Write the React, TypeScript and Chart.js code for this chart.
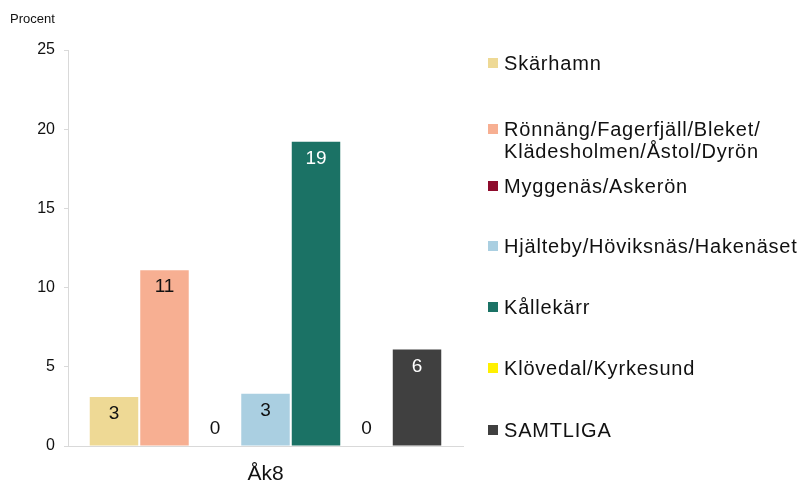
import React, { useEffect, useRef } from "react";
import { Chart, registerables } from "chart.js";

Chart.register(...registerables);

const categories = ["Åk8"];
const seriesNames = [
  "Skärhamn",
  "Rönnäng/Fagerfjäll/Bleket/\nKlädesholmen/Åstol/Dyrön",
  "Myggenäs/Askerön",
  "Hjälteby/Höviksnäs/Hakenäset",
  "Kållekärr",
  "Klövedal/Kyrkesund",
  "SAMTLIGA",
];
const seriesValues = [3.1, 11.1, 0, 3.3, 19.2, 0, 6.1];
const seriesLabels = ["3", "11", "0", "3", "19", "0", "6"];
const seriesColors = ["#EED995", "#F7AF92", "#8E0B2C", "#AACFE1", "#1B7265", "#FFF000", "#404040"];
const labelColors = ["#111", "#111", "#111", "#111", "#fff", "#111", "#fff"];
const yTicks = [0, 5, 10, 15, 20, 25];
const yTitle = "Procent";

const FONT = "'Liberation Sans', Arial, sans-serif";

const legendTops = [63, 140, 186, 246, 307, 368, 430];

export default function App() {
  const ref = useRef<HTMLCanvasElement | null>(null);

  useEffect(() => {
    if (!ref.current) return;
    const labelPlugin = {
      id: "valueLabels",
      afterDatasetsDraw(chart: any) {
        const ctx = chart.ctx;
        const base = chart.scales.y.getPixelForValue(0);
        ctx.save();
        ctx.font = `19px ${FONT}`;
        ctx.textAlign = "center";
        ctx.textBaseline = "middle";
        chart.data.datasets.forEach((ds: any, i: number) => {
          const meta = chart.getDatasetMeta(i);
          meta.data.forEach((bar: any) => {
            const v = seriesValues[i];
            const y = v === 0 ? base - 17 : bar.y + 17;
            ctx.fillStyle = labelColors[i];
            ctx.fillText(seriesLabels[i], bar.x, y);
          });
        });
        ctx.restore();
      },
    };
    const chart = new Chart(ref.current, {
      type: "bar",
      data: {
        labels: categories,
        datasets: seriesNames.map((name, i) => ({
          label: name,
          data: [seriesValues[i]],
          backgroundColor: seriesColors[i],
          borderColor: "#ffffff",
          borderWidth: 0,
          barPercentage: 0.96,
          categoryPercentage: 0.895,
        })),
      },
      options: {
        animation: false,
        responsive: false,
        maintainAspectRatio: false,
        layout: { padding: { left: 8, right: 342, top: 50, bottom: 0 } },
        plugins: {
          legend: { display: false },
          tooltip: { enabled: false },
        },
        scales: {
          x: {
            grid: { display: false },
            border: { display: true, color: "#d9d9d9", width: 1 },
            ticks: { color: "#111", font: { size: 21, family: FONT }, padding: 8 },
            afterFit: (s: any) => {
              s.height = 39;
            },
          },
          y: {
            min: 0,
            max: 25,
            afterBuildTicks: (s: any) => {
              s.ticks = yTicks.map((v) => ({ value: v }));
            },
            grid: { display: true, drawOnChartArea: false, tickLength: 4, color: "#d9d9d9" },
            border: { display: true, color: "#d9d9d9", width: 1 },
            ticks: { color: "#111", font: { size: 16, family: FONT }, padding: 9 },
            afterFit: (s: any) => {
              s.width = 60;
            },
          },
        },
      },
      plugins: [labelPlugin],
    });
    return () => chart.destroy();
  }, []);

  return (
    <div style={{ position: "absolute", left: 0, top: 0, width: 805, height: 485, background: "#fff", fontFamily: FONT }}>
      <canvas ref={ref} width={805} height={485} style={{ position: "absolute", left: 0, top: 0 }} />
      <div style={{ position: "absolute", left: 10, top: 11, fontSize: 13, color: "#111", lineHeight: "16px" }}>{yTitle}</div>
      {seriesNames.map((name, i) => {
        const lines = name.split("\n");
        const h = lines.length * 22;
        return (
          <div key={i} style={{ position: "absolute", left: 488, top: legendTops[i] - h / 2, height: h, display: "flex", alignItems: "flex-start" }}>
            <div style={{ width: 10, height: 10, background: seriesColors[i], marginTop: 6, marginRight: 6, flex: "none" }} />
            <div style={{ fontSize: 20, lineHeight: "22px", color: "#111", letterSpacing: 0.8, whiteSpace: "pre" }}>{name}</div>
          </div>
        );
      })}
    </div>
  );
}
